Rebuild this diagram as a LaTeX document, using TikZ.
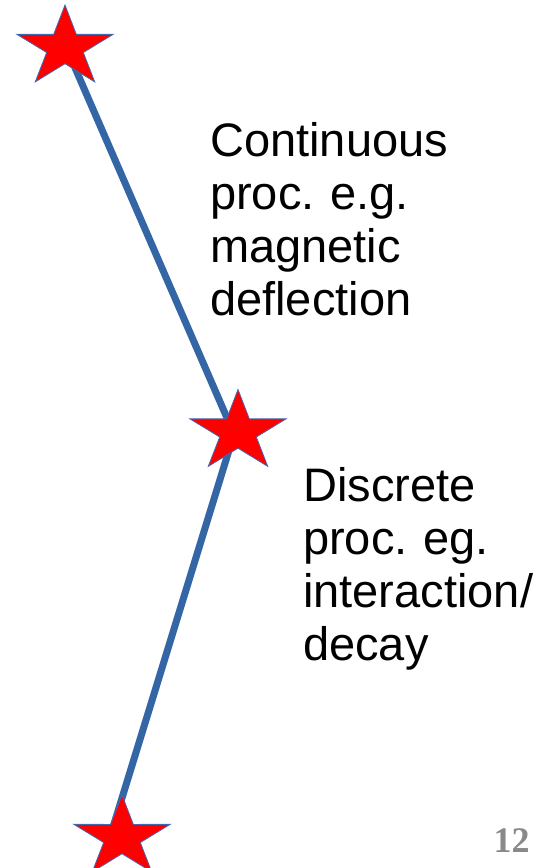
\documentclass[tikz,border=0pt]{standalone}
\usepackage{fontspec}
\setmainfont{Liberation Sans}
\newfontfamily\numfont{Liberation Serif}
\frenchspacing
\definecolor{trackblue}{RGB}{52,101,164}
\definecolor{starline}{RGB}{68,104,176}
\definecolor{pagegray}{RGB}{137,137,137}
\tikzset{
  track/.style={draw=trackblue, line width=7pt, line join=round},
  redstar/.pic={
    \filldraw[fill=red, draw=starline, line width=0.8pt, xscale=1.19]
      (-90:42.5) -- (-126:16.2) -- (-162:42.5) -- (-198:16.2) -- (-234:42.5)
      -- (-270:16.2) -- (-306:42.5) -- (-342:16.2) -- (-378:42.5) -- (-414:16.2) -- cycle;
  },
  label text/.style={anchor=base west, inner sep=0pt, text width=300pt, align=left,
    font=\frenchspacing\fontsize{47}{53}\selectfont},
  pagenum/.style={anchor=base, inner sep=0pt, text=pagegray,
    font=\numfont\bfseries\fontsize{36}{40}\selectfont}
}
\begin{document}
\begin{tikzpicture}[x=1pt, y=-1pt]
\useasboundingbox (0,0) rectangle (558,868);
\coordinate (p1) at (66,47);
\coordinate (p2) at (234,434);
\coordinate (p3) at (110,837);
\draw[track] (p1) -- (p2) -- (p3);
\pic (star1) at (65,47.5) {redstar};
\pic (star2) at (238,432) {redstar};
\pic (star3) at (122,837.5) {redstar};
\node[label text] (cont) at (210,156.7) {Continuous\\proc. e.g.\\magnetic\\deflection};
\node[label text] (disc) at (303,501.7) {Discrete\\proc. eg.\\interaction/\\decay};
\node[pagenum] (page) at (511.5,852) {12};
\end{tikzpicture}
\end{document}
